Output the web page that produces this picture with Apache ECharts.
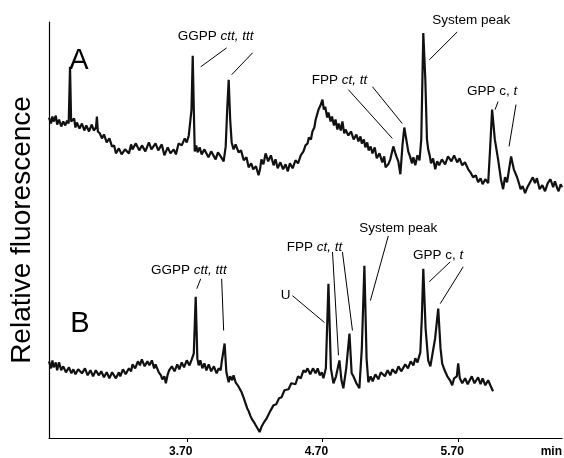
<!DOCTYPE html>
<html>
<head>
<meta charset="utf-8">
<script src="https://cdn.jsdelivr.net/npm/echarts@6/dist/echarts.min.js"></script>
<style>
  html, body { margin: 0; padding: 0; background: #fff; }
  #chart { width: 564px; height: 458px; }
</style>
</head>
<body>
<div id="chart"></div>
<script>
// retention time (min) and signal for trace A
var timesA = [
  2.685, 2.70, 2.71, 2.72, 2.735, 2.745, 2.759, 2.775, 2.79, 2.805,
  2.818, 2.83, 2.840, 2.848, 2.854, 2.87, 2.88, 2.89, 2.91, 2.928,
  2.945, 2.96, 2.98, 3.00, 3.015, 3.031, 3.038, 3.045, 3.06, 3.075,
  3.09, 3.11, 3.13, 3.149, 3.165, 3.178, 3.20, 3.22, 3.245, 3.274,
  3.29, 3.30, 3.325, 3.35, 3.37, 3.395, 3.421, 3.44, 3.47, 3.49,
  3.516, 3.535, 3.56, 3.58, 3.604, 3.62, 3.64, 3.663, 3.685, 3.70,
  3.715, 3.725, 3.735, 3.744, 3.752, 3.759, 3.77, 3.78, 3.795, 3.810,
  3.83, 3.86, 3.88, 3.913, 3.93, 3.95, 3.972, 3.987, 3.998, 4.009,
  4.020, 4.031, 4.045, 4.06, 4.082, 4.10, 4.12, 4.14, 4.156, 4.175,
  4.19, 4.21, 4.229, 4.24, 4.25, 4.265, 4.281, 4.30, 4.32, 4.34,
  4.354, 4.37, 4.39, 4.41, 4.428, 4.445, 4.46, 4.48, 4.501, 4.52,
  4.54, 4.56, 4.575, 4.59, 4.60, 4.615, 4.626, 4.64, 4.65, 4.66,
  4.671, 4.685, 4.700, 4.71, 4.72, 4.735, 4.744, 4.76, 4.77, 4.785,
  4.796, 4.81, 4.82, 4.835, 4.847, 4.86, 4.87, 4.891, 4.91, 4.93,
  4.95, 4.965, 4.98, 4.99, 5.005, 5.016, 5.03, 5.04, 5.055, 5.068,
  5.085, 5.10, 5.12, 5.141, 5.155, 5.165, 5.185, 5.20, 5.222, 5.235,
  5.245, 5.259, 5.274, 5.290, 5.303, 5.320, 5.332, 5.345, 5.36, 5.37,
  5.384, 5.40, 5.415, 5.428, 5.443, 5.458, 5.470, 5.479, 5.49, 5.50,
  5.515, 5.531, 5.545, 5.56, 5.58, 5.604, 5.625, 5.65, 5.67, 5.693,
  5.71, 5.73, 5.75, 5.774, 5.79, 5.81, 5.83, 5.847, 5.865, 5.88,
  5.90, 5.921, 5.935, 5.950, 5.970, 5.994, 6.015, 6.031, 6.045, 6.060,
  6.075, 6.090, 6.110, 6.134, 6.15, 6.16, 6.175, 6.193, 6.21, 6.23,
  6.25, 6.266, 6.28, 6.30, 6.32, 6.340, 6.36, 6.38, 6.40, 6.413,
  6.43, 6.44, 6.455, 6.465];
var valuesA = [
  322, 316, 323, 318, 324, 315, 320, 313, 318, 314,
  319, 316, 373, 318, 316, 321, 312, 317, 311, 316,
  309, 314, 308, 315, 309, 312, 323, 308, 306, 301,
  305, 297, 301, 293, 294, 286, 291, 285, 290, 286,
  295, 290, 296, 289, 294, 288, 297, 290, 296, 289,
  295, 284, 292, 286, 290, 285, 296, 294, 301, 297,
  304, 302, 330, 384, 330, 288, 294, 287, 292, 285,
  290, 282, 288, 280, 287, 283, 278, 293, 330, 360,
  320, 297, 290, 295, 287, 289, 279, 282, 272, 276,
  270, 273, 264, 270, 280, 275, 286, 278, 284, 274,
  280, 271, 277, 270, 275, 268, 276, 271, 279, 276,
  284, 288, 294, 296, 302, 300, 308, 312, 320, 322,
  330, 334, 340, 330, 333, 322, 327, 318, 323, 314,
  320, 310, 316, 309, 318, 306, 310, 304, 308, 300,
  305, 298, 303, 296, 300, 292, 297, 289, 293, 286,
  292, 281, 286, 277, 283, 272, 275, 280, 293, 287,
  283, 278, 265, 295, 312, 298, 288, 283, 276, 282,
  274, 284, 279, 300, 407, 360, 300, 290, 284, 276,
  281, 270, 278, 274, 280, 275, 283, 278, 284, 277,
  281, 274, 277, 270, 267, 262, 264, 257, 261, 255,
  260, 256, 290, 330, 300, 280, 260, 250, 262, 257,
  270, 283, 270, 262, 255, 250, 253, 246, 252, 257,
  262, 256, 261, 250, 254, 248, 256, 260, 252, 258,
  251, 248, 255, 252];

// trace B
var timesB = [
  2.685, 2.70, 2.71, 2.72, 2.735, 2.745, 2.759, 2.775, 2.79, 2.81,
  2.832, 2.85, 2.865, 2.88, 2.90, 2.928, 2.95, 2.97, 2.99, 3.01,
  3.03, 3.053, 3.07, 3.09, 3.11, 3.13, 3.15, 3.178, 3.20, 3.21,
  3.23, 3.25, 3.274, 3.29, 3.30, 3.32, 3.34, 3.355, 3.369, 3.39,
  3.41, 3.425, 3.443, 3.46, 3.47, 3.494, 3.51, 3.520, 3.535, 3.546,
  3.560, 3.570, 3.590, 3.61, 3.63, 3.645, 3.663, 3.68, 3.70, 3.72,
  3.737, 3.752, 3.766, 3.778, 3.788, 3.80, 3.815, 3.83, 3.845, 3.862,
  3.88, 3.90, 3.92, 3.935, 3.95, 3.957, 3.979, 3.992, 4.009, 4.02,
  4.035, 4.045, 4.060, 4.08, 4.104, 4.12, 4.13, 4.145, 4.156, 4.17,
  4.18, 4.195, 4.207, 4.22, 4.237, 4.25, 4.26, 4.27, 4.281, 4.29,
  4.30, 4.315, 4.325, 4.34, 4.36, 4.38, 4.399, 4.42, 4.45, 4.47,
  4.501, 4.52, 4.54, 4.56, 4.575, 4.59, 4.61, 4.63, 4.649, 4.665,
  4.68, 4.695, 4.707, 4.725, 4.744, 4.762, 4.781, 4.800, 4.825, 4.840,
  4.854, 4.875, 4.899, 4.915, 4.928, 4.950, 4.972, 4.990, 5.009, 5.025,
  5.038, 5.055, 5.07, 5.09, 5.112, 5.13, 5.16, 5.18, 5.20, 5.215,
  5.24, 5.26, 5.28, 5.310, 5.33, 5.35, 5.37, 5.384, 5.40, 5.421,
  5.432, 5.443, 5.460, 5.479, 5.495, 5.509, 5.530, 5.553, 5.570, 5.582,
  5.60, 5.62, 5.64, 5.656, 5.67, 5.690, 5.700, 5.712, 5.73, 5.751,
  5.77, 5.80, 5.82, 5.847, 5.865, 5.88, 5.90, 5.921, 5.94, 5.957];
var valuesB = [
  77, 70, 78, 71, 76, 68, 76, 68, 72, 66,
  71, 65, 69, 64, 69, 65, 70, 63, 68, 62,
  68, 63, 67, 61, 66, 60, 66, 60, 66, 62,
  69, 64, 70, 67, 74, 70, 77, 73, 79, 72,
  77, 73, 78, 70, 74, 66, 63, 59, 62, 55,
  64, 68, 72, 67, 74, 69, 76, 71, 78, 73,
  79, 85, 142, 80, 73, 78, 70, 75, 68, 74,
  67, 72, 65, 70, 68, 76, 95, 66, 56, 62,
  58, 63, 56, 52, 46, 40, 36, 30, 27, 22,
  19, 16, 13, 10, 6, 11, 10, 16, 14, 20,
  21, 27, 26, 33, 34, 40, 41, 48, 49, 55,
  54, 62, 60, 68, 66, 70, 64, 70, 65, 70,
  63, 66, 60, 70, 155, 70, 55, 62, 78, 58,
  50, 70, 105, 65, 62, 55, 50, 90, 173, 80,
  56, 62, 57, 64, 59, 66, 62, 68, 63, 69,
  65, 72, 67, 74, 70, 77, 73, 80, 76, 86,
  120, 170, 110, 78, 72, 70, 100, 130, 90, 75,
  68, 62, 58, 53, 60, 62, 75, 60, 55, 60,
  54, 62, 55, 61, 54, 60, 53, 58, 52, 47];

var tickValues = [3.70, 4.70, 5.70];

// peak labels: text, time, signal
var labelText = ['A', '{n|GGPP }{i|ctt, ttt}', '{n|FPP }{i|ct, tt}', '{n|System peak}', '{n|GPP c, }{i|t}',
  'B', '{n|GGPP }{i|ctt, ttt}', '{n|U}', '{n|FPP }{i|ct, tt}', '{n|System peak}', '{n|GPP c, }{i|t}'];
var labelT = [2.906, 3.913, 4.825, 5.796, 5.950, 2.913, 3.715, 4.428, 4.641, 5.259, 5.553];
var labelV = [379, 404, 359, 416, 348, 115, 169, 143, 192, 211, 184];

// leader lines [t1, v1, t2, v2]
var leadersA = [[3.994, 392, 3.803, 373], [4.185, 387, 4.031, 365], [4.891, 350, 5.215, 301],
  [5.068, 353, 5.288, 316], [5.693, 408, 5.487, 380], [5.994, 338, 5.972, 330], [6.126, 335, 6.075, 293]];
var leadersB = [[3.803, 160, 3.774, 150], [3.957, 160, 3.972, 108], [4.479, 143, 4.715, 116],
  [4.774, 187, 4.818, 83], [4.847, 187, 4.921, 108], [5.185, 203, 5.053, 138],
  [5.641, 177, 5.487, 157], [5.737, 172, 5.568, 135]];

var font = 'Liberation Sans, Arial, sans-serif';

function pairs(ts, vs) {
  return ts.map(function (t, i) { return [t, vs[i]]; });
}
function leaderData(list) {
  return list.map(function (l) { return [{ coord: [l[0], l[1]] }, { coord: [l[2], l[3]] }]; });
}
function labelData(from, to) {
  var out = [];
  for (var i = from; i < to; i++) {
    var big = labelText[i].length === 1;
    var lab = big ? { formatter: labelText[i], fontSize: 29, fontFamily: font, color: '#000' }
                  : { formatter: labelText[i] };
    if (labelV[i] > 410) lab.offset = [0, -4];
    out.push({ coord: [labelT[i], labelV[i]], label: lab });
  }
  return out;
}

var rich = {
  n: { fontSize: 13.5, fontFamily: font, color: '#000' },
  i: { fontSize: 13.5, fontFamily: font, fontStyle: 'italic', color: '#000' }
};

function trace(name, data, leaders, from, to) {
  return {
    name: name,
    type: 'line',
    data: data,
    showSymbol: false,
    animation: false,
    clip: false,
    lineStyle: { color: '#111', width: 2.2 },
    markLine: {
      silent: true,
      symbol: ['none', 'none'],
      label: { show: false },
      lineStyle: { color: '#000', width: 1, type: 'solid' },
      data: leaderData(leaders)
    },
    markPoint: {
      silent: true,
      symbol: 'circle',
      symbolSize: 1,
      itemStyle: { color: 'rgba(0,0,0,0)' },
      label: { show: true, position: 'inside', color: '#000', rich: rich },
      data: labelData(from, to)
    }
  };
}

var chart = echarts.init(document.getElementById('chart'));
chart.setOption({
  animation: false,
  backgroundColor: '#fff',
  grid: { left: 48, right: 2, top: 22, bottom: 18 },
  xAxis: {
    type: 'value',
    min: 2.685,
    max: 6.465,
    splitLine: { show: false },
    axisLine: { lineStyle: { color: '#000', width: 1.2 } },
    axisTick: { customValues: tickValues, length: 4, lineStyle: { color: '#000' } },
    axisLabel: {
      customValues: tickValues,
      formatter: function (v) { return v.toFixed(2); },
      color: '#000', fontSize: 12, fontWeight: 'bold', fontFamily: font,
      padding: [0, 12, 0, 0]
    }
  },
  yAxis: {
    type: 'value',
    min: 0,
    max: 418,
    name: 'Relative fluorescence',
    nameLocation: 'middle',
    nameRotate: 90,
    nameGap: 13,
    nameTextStyle: { fontSize: 28, fontFamily: font, color: '#000' },
    axisLine: { show: true, lineStyle: { color: '#000', width: 1.2 } },
    axisTick: { show: false },
    axisLabel: { show: false },
    splitLine: { show: false }
  },
  graphic: [{
    type: 'text', right: 2, bottom: 0,
    style: { text: 'min', font: 'bold 12px ' + font, fill: '#000' }
  }],
  series: [
    trace('A', pairs(timesA, valuesA), leadersA, 0, 5),
    trace('B', pairs(timesB, valuesB), leadersB, 5, 11)
  ]
});
</script>
</body>
</html>
